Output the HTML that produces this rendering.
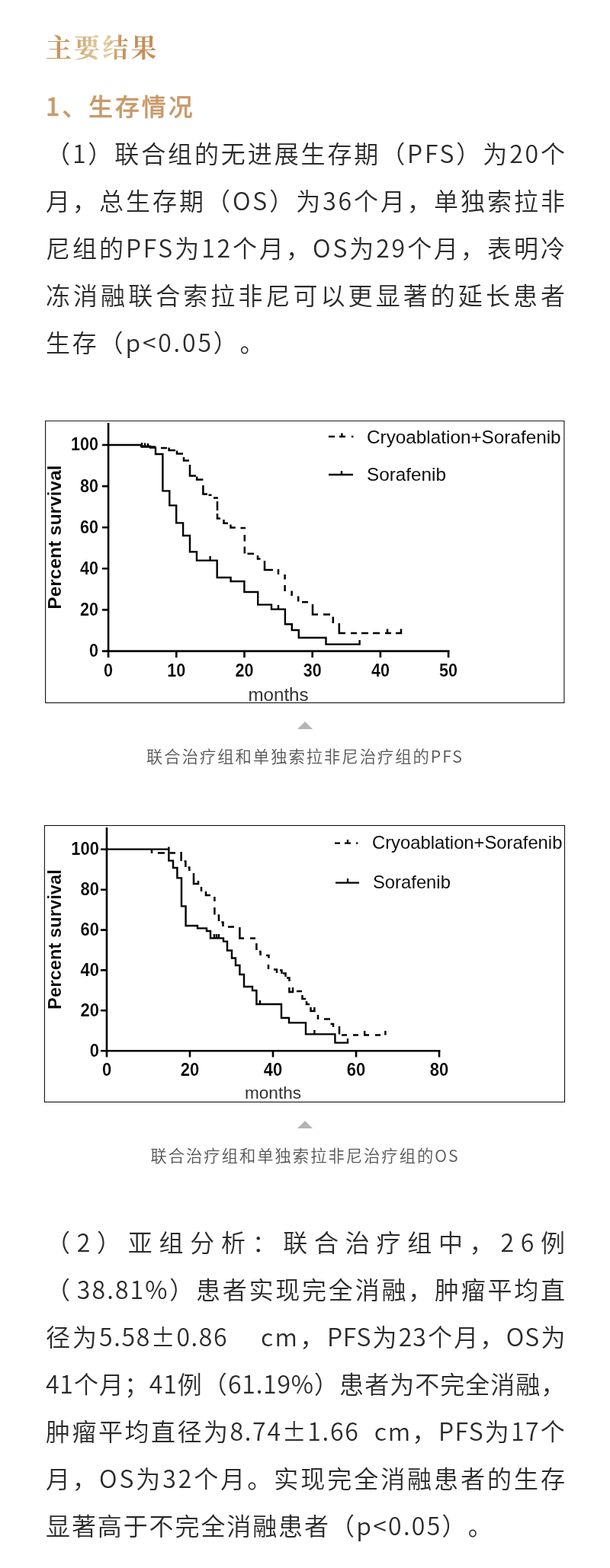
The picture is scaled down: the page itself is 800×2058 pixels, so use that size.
<!DOCTYPE html>
<html lang="zh-CN">
<head>
<meta charset="utf-8">
<title>主要结果</title>
<style>
html,body{margin:0;padding:0;background:#fff;}
body{width:800px;height:2058px;overflow:hidden;position:relative;font-family:"Noto Sans CJK SC","Liberation Sans",sans-serif;color:#222;}
.abs{position:absolute;}
h1{position:absolute;left:60px;top:34px;margin:0;font-family:"Noto Serif CJK SC","Liberation Serif",serif;font-weight:700;font-size:34px;line-height:54px;letter-spacing:3.2px;white-space:nowrap;
 background:linear-gradient(90deg,#c8915a 0%,#cb9a64 22%,#dcc08f 42%,#e3cea1 54%,#cf9f69 62%,#c8925c 68%,#c48c5a 100%);-webkit-background-clip:text;background-clip:text;color:transparent;}
h2{position:absolute;left:60px;top:110px;margin:0;font-weight:500;font-size:32px;line-height:56px;letter-spacing:2.9px;color:#c9996a;-webkit-text-stroke:0.3px #c9996a;white-space:nowrap;}
.body{position:absolute;left:60px;width:690px;margin:0;font-size:32px;font-weight:350;line-height:62px;letter-spacing:2.8px;text-spacing-trim:space-all;color:#2b2b2b;}
.body .ln{display:block;height:62px;width:683.8px;white-space:nowrap;text-align:justify;text-align-last:justify;}
.body .ln.ea{width:683.1px;}
.body .ln.eb{width:682.2px;}
.body .ln.last{text-align:left;text-align-last:left;}
.body .a{letter-spacing:2.13px;}
.body .b{letter-spacing:0.8px;}
#p1{top:169px;}
#p2{top:1598px;}
.fig{position:absolute;box-sizing:border-box;border:1px solid #000;background:#fff;}
.tri{position:absolute;left:390px;width:0;height:0;border-left:10px solid transparent;border-right:10px solid transparent;border-bottom:10.5px solid #b4b4b4;}
.cap{position:absolute;left:0;width:800px;text-align:center;font-size:21.3px;font-weight:350;letter-spacing:2px;color:#555;line-height:30px;white-space:nowrap;}
</style>
</head>
<body>
<h1>主要结果</h1>
<h2>1、生存情况</h2>
<div class="body" id="p1">
<span class="ln">（1）联合组的无进展生存期（PFS）为20个</span>
<span class="ln">月，总生存期（OS）为36个月，单独索拉非</span>
<span class="ln">尼组的PFS为12个月，OS为29个月，表明冷</span>
<span class="ln">冻消融联合索拉非尼可以更显著的延长患者</span>
<span class="ln last">生存（p&lt;0.05）。</span>
</div>

<svg class="chart" id="c1" style="position:absolute;left:59px;top:552px;" width="682" height="371" viewBox="59 552 682 371" font-family="'Liberation Sans',Arial,sans-serif">
<defs><filter id="soft" x="-2%" y="-2%" width="104%" height="104%"><feGaussianBlur stdDeviation="0.55"/></filter></defs>
<rect x="59.6" y="552.4" width="680.3" height="370" fill="#fff" stroke="#111" stroke-width="1.1"/>
<g filter="url(#soft)">
<g stroke="#000" stroke-width="2.6" fill="none" stroke-linecap="butt">
<path d="M142.1,555 V855.9"/>
<path d="M134,854.6 H589.4"/>
<path d="M134,584 H142 M134,638.1 H142 M134,692.2 H142 M134,746.3 H142 M134,800.4 H142"/>
<path d="M142.1,854 V863 M231.3,854 V863 M320.5,854 V863 M409.7,854 V863 M498.9,854 V863 M588.1,854 V863"/>
</g>
<g font-weight="700" font-size="21.6px" fill="#000" text-anchor="end" stroke="#fff" stroke-width="0.15"><text transform="translate(129.0,591.4) scale(1,1.130)">100</text><text transform="translate(129.0,645.5) scale(1,1.130)">80</text><text transform="translate(129.0,699.6) scale(1,1.130)">60</text><text transform="translate(129.0,753.7) scale(1,1.130)">40</text><text transform="translate(129.0,807.8) scale(1,1.130)">20</text><text transform="translate(129.0,861.9) scale(1,1.130)">0</text></g>
<g font-weight="700" font-size="21.6px" fill="#000" text-anchor="middle" stroke="#fff" stroke-width="0.15"><text transform="translate(142.1,888.2) scale(1,1.130)">0</text><text transform="translate(231.3,888.2) scale(1,1.130)">10</text><text transform="translate(320.5,888.2) scale(1,1.130)">20</text><text transform="translate(409.7,888.2) scale(1,1.130)">30</text><text transform="translate(498.9,888.2) scale(1,1.130)">40</text><text transform="translate(588.1,888.2) scale(1,1.130)">50</text></g>
<text transform="translate(365,919.5) scale(1.05,1)" font-size="23px" fill="#333" text-anchor="middle">months</text>
<text transform="translate(79.7,705) rotate(-90)" font-size="24.5px" font-weight="700" fill="#000" stroke="#fff" stroke-width="0.15" text-anchor="middle">Percent survival</text>
<g font-size="24.3px" fill="#111">
<text x="481" y="582">Cryoablation+Sorafenib</text>
<text x="481" y="631">Sorafenib</text>
</g>
<g stroke="#000" stroke-width="2.4" fill="none">
<path d="M431,573 H439 M445,573 H453 M448.4,573 V568.6 M461,573 H463.4"/>
<path d="M431,623 H463 M448,623 V618"/>
</g>
<path id="c1solid" fill="none" stroke="#000" stroke-width="2.4" stroke-linejoin="miter" d="M142,584 H185 V585.6 H197 V587.6 H204 V596 H213.4 V644.4 H222.3 V663.4 H231.2 V686.4 H240.1 V703 H249 V724.2 H258 V735.6 H284.7 V758 H302.6 V763 H320.4 V777 H338.2 V793.6 H356 V799.6 H373.9 V819.2 H382.8 V827 H391.8 V837 H427.5 V845.6 H471.6 V840 M275.6,735.6 V730 M365,799.6 V794 M186,586 V581 M190,586 V581.5 M194,586.5 V582"/>
<path id="c1dash" fill="none" stroke="#000" stroke-width="2.5" d="M186,584 V586.4 H204 M211,588 H219 M221.6,587.4 V591 H230 M232,591.4 V595.6 H240 M241,600 V604.4 H248 M249,610 V624.4 H257 M258.2,625.6 V629.6 H266.4 M266.4,637 V648.6 H272 M273.5,649.8 H277.5 M280,653.4 H286 M285,658 V670 M285,674 V680.4 H289 M293.5,682 V686.8 H299 M302.5,688.6 V692.6 H308.8 M315.5,693 H322 M320.8,702 V710.5 M320.8,717.5 V726.6 M324.5,726.8 H333 M338,729 V733.6 H341.5 M347,736 V748 H358 M365,747 V754 M373.6,754 V760.5 M373.6,768 V776 M382.6,775.6 V782 M391.2,782.6 V789.4 M396,790.2 H404 M410,793 V806.4 H417 M424,806.6 H433 M436.8,809.6 V818 M444.8,818 V831 H453 M460,831 H468 M474,831 H483 M489,831 H498 M505,831 H513 M508,831 V825.6 M519,831 H526 V825.6"/>
</g>
</svg>
<div class="tri" style="top:947px;"></div>
<div class="cap" style="top:976.5px;">联合治疗组和单独索拉非尼治疗组的PFS</div>

<svg class="chart" id="c2" style="position:absolute;left:57px;top:1082px;" width="686" height="367" viewBox="57 1082 686 367" font-family="'Liberation Sans',Arial,sans-serif">
<rect x="58.4" y="1083.5" width="682.1" height="362.9" fill="#fff" stroke="#111" stroke-width="1.1"/>
<g filter="url(#soft)">
<g stroke="#000" stroke-width="2.6" fill="none">
<path d="M140,1086 V1380.5"/>
<path d="M132,1379.2 H577.3"/>
<path d="M132,1114.8 H140 M132,1167.7 H140 M132,1220.6 H140 M132,1273.4 H140 M132,1326.3 H140"/>
<path d="M140.0,1378.6 V1387.4 M249.0,1378.6 V1387.4 M358.0,1378.6 V1387.4 M467.0,1378.6 V1387.4 M576.0,1378.6 V1387.4"/>
</g>
<g font-weight="700" font-size="22px" fill="#000" text-anchor="end" stroke="#fff" stroke-width="0.15"><text transform="translate(130.0,1122.4) scale(1,1.090)">100</text><text transform="translate(130.0,1175.3) scale(1,1.090)">80</text><text transform="translate(130.0,1228.2) scale(1,1.090)">60</text><text transform="translate(130.0,1281.0) scale(1,1.090)">40</text><text transform="translate(130.0,1333.9) scale(1,1.090)">20</text><text transform="translate(130.0,1386.8) scale(1,1.090)">0</text></g>
<g font-weight="700" font-size="22px" fill="#000" text-anchor="middle" stroke="#fff" stroke-width="0.15"><text transform="translate(140.0,1411.6) scale(1,1.090)">0</text><text transform="translate(249.0,1411.6) scale(1,1.090)">20</text><text transform="translate(358.0,1411.6) scale(1,1.090)">40</text><text transform="translate(467.0,1411.6) scale(1,1.090)">60</text><text transform="translate(576.0,1411.6) scale(1,1.090)">80</text></g>
<text x="358" y="1442" font-size="22.6px" fill="#333" text-anchor="middle">months</text>
<text transform="translate(79.6,1233) rotate(-90)" font-size="23.8px" font-weight="700" fill="#000" stroke="#fff" stroke-width="0.15" text-anchor="middle">Percent survival</text>
<g font-size="23.8px" fill="#111">
<text x="488" y="1114.4">Cryoablation+Sorafenib</text>
<text x="489" y="1166.4">Sorafenib</text>
</g>
<g stroke="#000" stroke-width="2.3" fill="none">
<path d="M439,1106.6 H446 M452,1106.6 H460 M456,1106.6 V1102 M467,1106.6 H469.4"/>
<path d="M440,1158.6 H471 M456,1158.6 V1153"/>
</g>
<path id="c2solid" fill="none" stroke="#000" stroke-width="2.4" d="M140,1114.6 H221.4 V1129.6 H227 V1139 H232.4 V1152.4 H238 V1189.4 H243.6 V1215 H259 V1218.4 H271 V1222 H276 V1231.4 H293 V1235.6 H298 V1247.5 H304 V1257.5 H309 V1267 H314.4 V1279 H320 V1295 H331 V1300 H336.4 V1318 H369 V1336 H379 V1342.4 H401 V1357.4 H439.4 V1368.6 H456 V1363 M281,1231.4 V1226 M284,1231.4 V1226 M287,1231.4 V1226 M341,1318 V1313 M412.4,1357.4 V1352 M221.4,1114.6 V1111.5"/>
<path id="c2dash" fill="none" stroke="#000" stroke-width="2.5" d="M199,1114.6 V1120 M207,1119.4 H216 M222.5,1119.4 H230 M237.6,1118 V1130 M241.6,1130.6 H243.4 V1138 M246.6,1138.6 H248.4 V1143 M254,1146 V1160 H260 V1156 M264,1164 V1170 M270,1170 V1175 H276 M281.4,1177 V1183 M281.4,1191 V1200.5 M285.6,1201.6 H287 V1209 M290.4,1210.6 H292.5 V1216 M299,1216.4 H307 M314.4,1217 V1231.4 H320 M328,1231.4 H335 M336.4,1238 V1247 M340,1249 H341.6 V1254 M349,1254 H352.5 V1257.4 M352,1266 V1272 M359,1272.4 H363 V1277 M367,1273.6 H369.5 V1278 M371,1277.6 H374.5 V1282 M376,1283.6 H379.5 V1288 M379.4,1296 V1302 H384 V1296 M389,1301 H396 M396.5,1306 V1311 H401 M402,1314 V1318 H406 M407.5,1322 V1327 H412.4 V1322 M417,1332 V1338 M425,1337.6 H433 M433.5,1344 H437 V1348 M445,1347 V1357.6 M448,1358.4 H455 M463,1358.4 H470 M477,1358.4 H484 M478.2,1358.4 V1353 M492,1358.4 H499 M505.4,1358.4 V1353"/>
</g>
</svg>
<div class="tri" style="top:1471px;"></div>
<div class="cap" style="top:1500.5px;">联合治疗组和单独索拉非尼治疗组的OS</div>

<div class="body" id="p2">
<span class="ln" style="letter-spacing:8.69px;width:689.7px">（2）亚组分析：联合治疗组中，26例</span>
<span class="ln ea a">（<span style="display:inline-block;width:6px"></span>38.81%）患者实现完全消融，肿瘤平均直</span>
<span class="ln eb"><span style="letter-spacing:1.6px">径为5.58±0.86</span><span class="a">&nbsp;&nbsp;&nbsp; cm，</span><span class="b">PFS为23个月，OS为</span></span>
<span class="ln eb b">41个月；41例（61.19%）患者为不完全消融，</span>
<span class="ln eb"><span style="letter-spacing:1.7px">肿瘤平均直径为8.74±1.66&nbsp; cm，</span><span style="letter-spacing:1.4px">PFS为17个</span></span>
<span class="ln" style="letter-spacing:2.93px;width:683.93px">月，OS为32个月。实现完全消融患者的生存</span>
<span class="ln last" style="letter-spacing:1.9px">显著高于不完全消融患者<span style="letter-spacing:2.3px">（p&lt;0.05）。</span></span>
</div>
</body>
</html>
